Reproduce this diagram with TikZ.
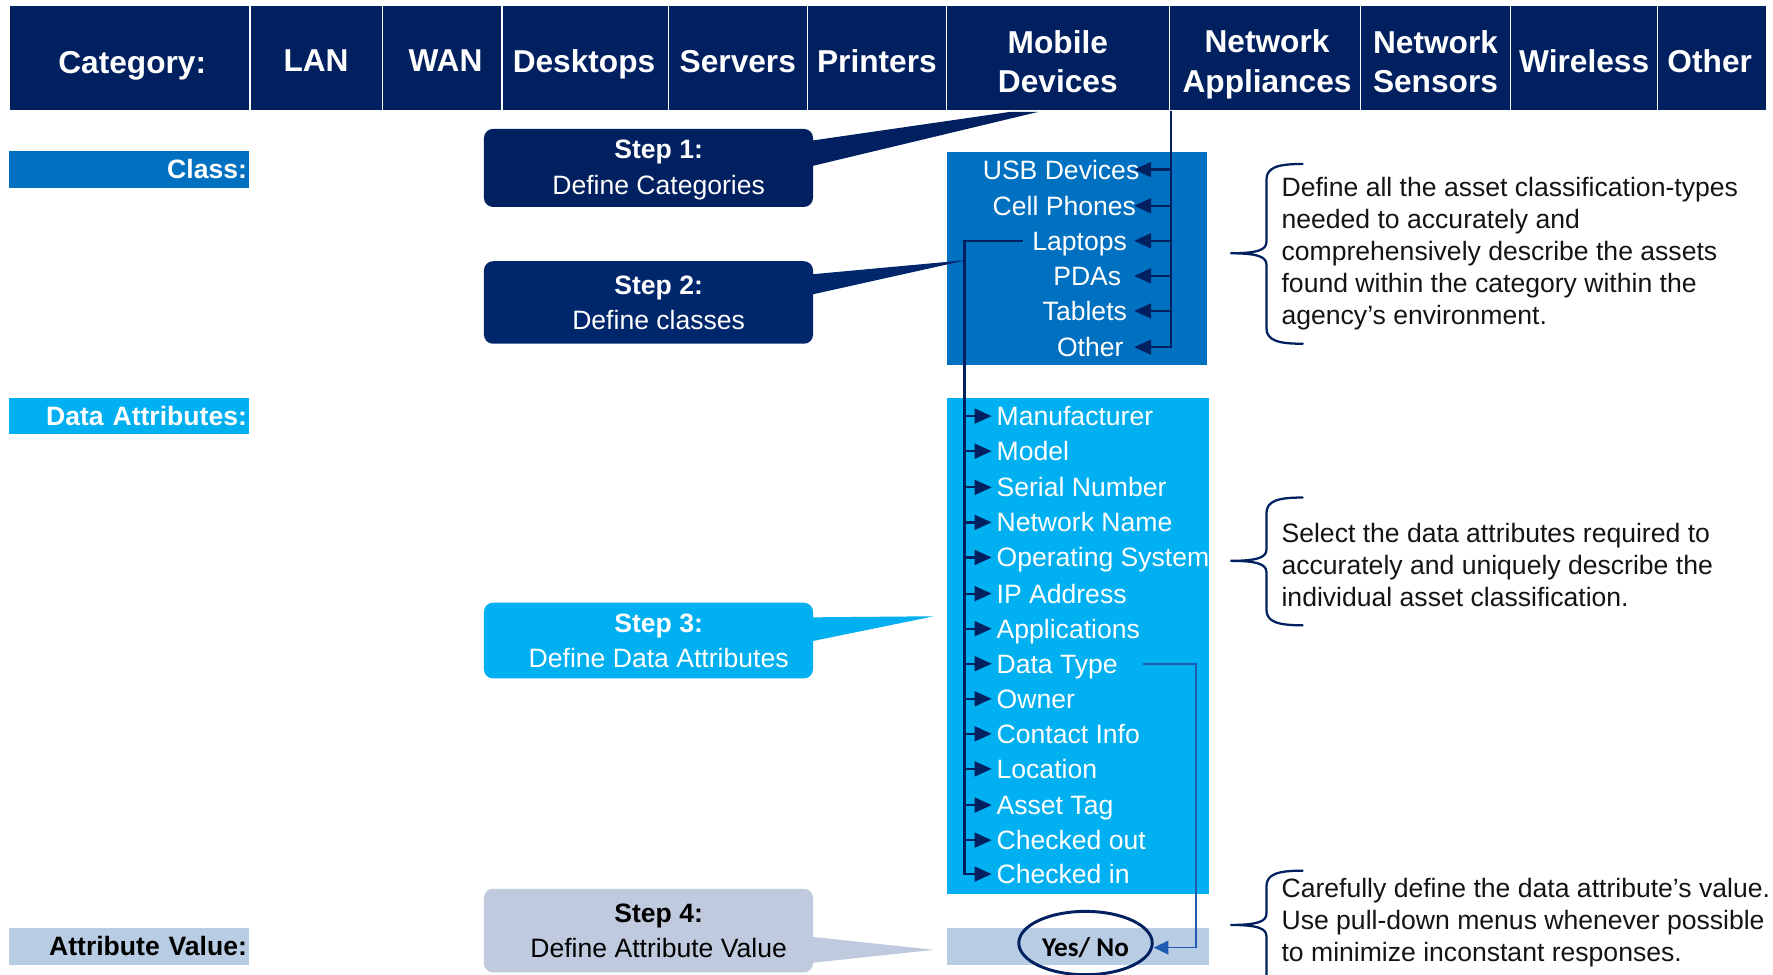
\documentclass[tikz,border=0pt]{standalone}
\usepackage{fontspec}
\setmainfont{Liberation Sans}
\newfontfamily\calibfont{Carlito}
\usetikzlibrary{arrows.meta,shapes.geometric,calc}
\definecolor{navy}{RGB}{0,32,96}
\definecolor{navytwo}{RGB}{0,38,108}
\definecolor{classblue}{RGB}{0,112,192}
\definecolor{cyanblue}{RGB}{0,176,240}
\definecolor{paleblue}{RGB}{184,204,228}
\definecolor{stepgray}{RGB}{192,202,223}
\definecolor{linkblue}{RGB}{30,90,175}
\definecolor{textblack}{RGB}{20,20,20}
\newcommand\notebrace[3]{%
  \draw[bracestyle] (1152,#1) .. controls (1130,#1) and (1120,#1+3) .. (1120,#1+14)
    -- (1120,#2-10) .. controls (1120,#2-3) and (1112,#2) .. (1088,#2)
    .. controls (1112,#2) and (1120,#2+3) .. (1120,#2+10)
    -- (1120,#3-14) .. controls (1120,#3-3) and (1130,#3) .. (1152,#3);}
\begin{document}
\begin{tikzpicture}[x=0.5pt,y=-0.5pt,
  hdr/.style={fill=navy, draw=white, line width=0.6pt,
    minimum height=46.5pt, inner sep=0pt},
  hdrone/.style={text=white, inner sep=0pt, text height=10pt, text depth=0pt,
    font=\bfseries\fontsize{14}{17}\selectfont},
  hdrtwo/.style={text=white, inner sep=0pt, align=center,
    font=\bfseries\fontsize{14}{17.5}\selectfont},
  rowlab/.style={anchor=north west, inner ysep=0pt, inner xsep=1pt, text width=104pt,
    align=right, font=\bfseries\fontsize{11.75}{14}\selectfont},
  stepbox/.style={rounded corners=4pt, minimum width=145.5pt, inner sep=0pt},
  steptext/.style={align=center, inner sep=0pt, font=\fontsize{11.75}{15.5}\selectfont},
  item/.style={inner sep=0pt, text height=8.4pt, text depth=0pt, text=white,
    font=\fontsize{11.75}{14}\selectfont},
  link/.style={draw=navy, line width=1pt},
  tip/.style={-{Triangle[length=7.5pt,width=6.5pt]}},
  note/.style={anchor=west, align=left, inner sep=0pt, text=textblack,
    font=\fontsize{11.75}{14.15}\selectfont},
  bracestyle/.style={draw=navy, line width=1pt, line cap=round}
]
\useasboundingbox (0,0) rectangle (1568,862);

% header cells
\node[hdr, minimum width=106.5pt] (cat) at (114.5,51.5) {};
\node[hdr, minimum width=58.5pt] (lan) at (279.5,51.5) {};
\node[hdr, minimum width=53pt] (wan) at (391,51.5) {};
\node[hdr, minimum width=73.5pt] (desk) at (517.5,51.5) {};
\node[hdr, minimum width=61.5pt] (serv) at (652.5,51.5) {};
\node[hdr, minimum width=61.5pt] (prin) at (775.5,51.5) {};
\node[hdr, minimum width=98.5pt] (mob) at (935.5,51.5) {};
\node[hdr, minimum width=84.5pt] (netapp) at (1118.5,51.5) {};
\node[hdr, minimum width=66.5pt] (netsen) at (1269.5,51.5) {};
\node[hdr, minimum width=65pt] (wire) at (1401,51.5) {};
\node[hdr, minimum width=48pt] (oth) at (1514,51.5) {};
% header texts
\node[hdrone] (catt) at ([xshift=1.2pt,yshift=-1.6pt]cat.center) {Category:};
\node[hdrone] (lant) at ([yshift=-0.8pt]lan.center) {LAN};
\node[hdrone] (want) at ([xshift=1.5pt,yshift=-0.8pt]wan.center) {WAN};
\node[hdrone] (deskt) at ([xshift=-0.5pt,yshift=-1.2pt]desk.center) {Desktops};
\node[hdrone] (servt) at ([yshift=-1.2pt]serv.center) {Servers};
\node[hdrone] (print) at ([yshift=-1.2pt]prin.center) {Printers};
\node[hdrtwo] (mobt) at ([yshift=-1.6pt]mob.center) {Mobile\\Devices};
\node[hdrtwo] (netappt) at ([xshift=1pt,yshift=-2.8pt]netapp.center) {Network\\Appliances};
\node[hdrtwo] (netsent) at ([yshift=-1.5pt]netsen.center) {Network\\Sensors};
\node[hdrone] (wiret) at ([yshift=-1.2pt]wire.center) {Wireless};
\node[hdrone] (otht) at ([xshift=-1pt,yshift=-1.2pt]oth.center) {Other};

% row labels
\node[rowlab, fill=classblue, text=white, minimum height=16.5pt] (classlab) at (8,133) {Class:};
\node[rowlab, fill=cyanblue, text=white, minimum height=15.5pt] (datalab) at (8,352) {Data Attributes:};
\node[rowlab, fill=paleblue, text=black, minimum height=16.5pt] (vallab) at (8,820) {Attribute Value:};

% list boxes
\node[fill=classblue, minimum width=115pt, minimum height=94pt, anchor=north west, inner sep=0pt] (classbox) at (837,134) {};
\node[fill=cyanblue, minimum width=116pt, minimum height=219pt, anchor=north west, inner sep=0pt] (databox) at (837,352) {};
\node[fill=paleblue, minimum width=116pt, minimum height=16.5pt, anchor=north west, inner sep=0pt] (avbox) at (837,820) {};

% step boxes
\node[stepbox, fill=navy, minimum height=34.5pt] (s1) at (573.5,148.5) {};
\node[stepbox, fill=navytwo, minimum height=36.5pt] (s2) at (573.5,267.5) {};
\node[stepbox, fill=cyanblue, minimum height=33.5pt] (s3) at (573.5,566.5) {};
\node[stepbox, fill=stepgray, minimum height=37pt] (s4) at (573.5,823) {};

% callout tails
\coordinate (t1a) at (893,99);
\coordinate (t1b) at (918,99);
\coordinate (t2) at (855,230);
\coordinate (t3) at (826,545);
\coordinate (t4) at (826,840);
\fill[navy] ([xshift=-3pt,yshift=11.75pt]s1.east) -- (t1a) -- (t1b) -- ([xshift=-3pt,yshift=0.25pt]s1.east) -- cycle;
\fill[navytwo] ([xshift=-3pt,yshift=12.25pt]s2.east) -- (t2) -- ([xshift=-3pt,yshift=3pt]s2.east) -- cycle;
\fill[cyanblue] ([xshift=-3pt,yshift=10.25pt]s3.east) -- (t3) -- ([xshift=-3pt,yshift=-0.75pt]s3.east) -- cycle;
\fill[stepgray] ([xshift=-3pt,yshift=-2.5pt]s4.east) -- (t4) -- ([xshift=-3pt,yshift=-14.5pt]s4.east) -- cycle;

% step texts
\node[steptext, text=white, font=\fontsize{11.75}{16}\selectfont] (s1t) at ([xshift=4.5pt,yshift=-1pt]s1.center) {{\bfseries Step 1:}\\Define Categories};
\node[steptext, text=white] (s2t) at ([xshift=4.5pt]s2.center) {{\bfseries Step 2:}\\Define classes};
\node[steptext, text=white] (s3t) at ([xshift=4.5pt]s3.center) {{\bfseries Step 3:}\\Define Data Attributes};
\node[steptext, text=black] (s4t) at ([xshift=4.5pt]s4.center) {{\bfseries Step 4:}\\Define Attribute Value};

% class items
\node[item, anchor=east] (usb) at (1008,150) {USB Devices};
\node[item, anchor=east] (cell) at (1005,182) {Cell Phones};
\node[item, anchor=east] (laptops) at (997,213) {Laptops};
\node[item, anchor=east] (pdas) at (992,244) {PDAs};
\node[item, anchor=east] (tablets) at (997,275) {Tablets};
\node[item, anchor=east] (otherc) at (994,307) {Other};

% attribute items
\node[item, anchor=west] (a1) at (881,368) {Manufacturer};
\node[item, anchor=west] (a2) at (881,399) {Model};
\node[item, anchor=west] (a3) at (881,431) {Serial Number};
\node[item, anchor=west] (a4) at (881,462) {Network Name};
\node[item, anchor=west] (a5) at (881,493) {Operating System};
\node[item, anchor=west] (a6) at (881,525) {IP Address};
\node[item, anchor=west] (a7) at (881,556) {Applications};
\node[item, anchor=west] (a8) at (881,587) {Data Type};
\node[item, anchor=west] (a9) at (881,618) {Owner};
\node[item, anchor=west] (a10) at (881,649) {Contact Info};
\node[item, anchor=west] (a11) at (881,680) {Location};
\node[item, anchor=west] (a12) at (881,712) {Asset Tag};
\node[item, anchor=west] (a13) at (881,743) {Checked out};
\node[item, anchor=west] (a14) at (881,773) {Checked in};

% class connectors
\coordinate (vtop) at ([xshift=1pt]netapp.south west);
\coordinate (tipx) at (1003,0);
\draw[link,tip] (vtop) -- (vtop |- otherc.east) -- (tipx |- otherc.east);
\foreach \n in {usb,cell,laptops,pdas,tablets}
  \draw[link,tip] (vtop |- \n.east) -- (tipx |- \n.east);

% attribute connectors
\coordinate (vx) at (853,0);
\coordinate (ax) at (877,0);
\draw[link,tip] ([xshift=-4pt]laptops.west) -- (vx |- laptops.west) -- (vx |- a14.west) -- (ax |- a14.west);
\foreach \n in {a1,a2,a3,a4,a5,a6,a7,a8,a9,a10,a11,a12,a13}
  \draw[link,tip] (vx |- \n.west) -- (ax |- \n.west);

% value
\node[ellipse, draw=navy, line width=1.3pt, minimum width=59pt, minimum height=28pt,
  inner sep=0pt, text height=11.7pt, text depth=0pt,
  font=\calibfont\bfseries\fontsize{12}{14}\selectfont, text=black] (yesno) at (960,834) {Yes/ No};
\coordinate (dx) at (1058,0);
\draw[draw=linkblue, line width=0.8pt, -{Triangle[length=6.5pt,width=6pt]}]
  ([xshift=11pt]a8.east) -- (dx |- a8.east) -- (dx |- 0,838) -- (yesno.east |- 0,838);

% braces and notes
\notebrace{145}{224}{304}
\notebrace{440}{496}{553}
\notebrace{770}{818}{900}
\node[note] (n1) at (1133,224.5) {Define all the asset classification-types\\needed to accurately and\\comprehensively describe the assets\\found within the category within the\\agency’s environment.};
\node[note] (n2) at (1133,500) {Select the data attributes required to\\accurately and uniquely describe the\\individual asset classification.};
\node[note] (n3) at (1133,815.5) {Carefully define the data attribute’s value.\\Use pull-down menus whenever possible\\to minimize inconstant responses.};
\end{tikzpicture}
\end{document}
